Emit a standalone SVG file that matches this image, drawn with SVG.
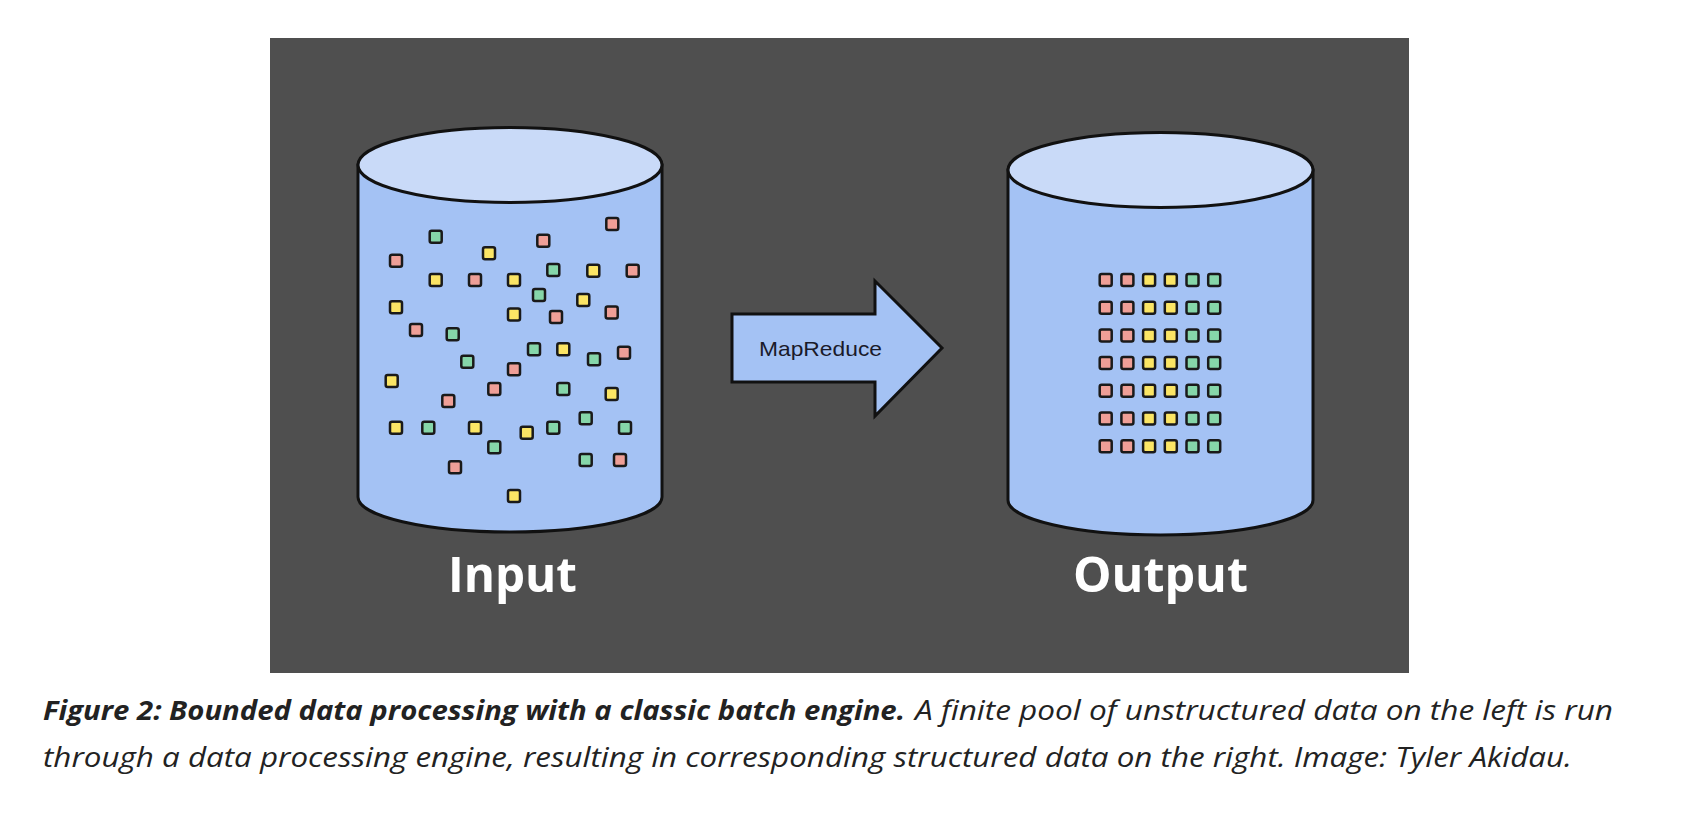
<svg xmlns="http://www.w3.org/2000/svg" width="1698" height="822" viewBox="0 0 1698 822">
<style>
.bg{fill:#4f4f4f}
.body{fill:#a4c2f4;stroke:#111;stroke-width:3}
.top{fill:#c9daf8;stroke:#111;stroke-width:3}
.sq{stroke:#1a1a1a;stroke-width:2.5}
.p{fill:#ef9f97}
.y{fill:#fbe565}
.g{fill:#86d6a9}
.lbl{font-family:"Open Sans","Liberation Sans",sans-serif;font-weight:bold;font-size:49px;fill:#fff}
.arrowtxt{font-family:"Liberation Sans",Arial,sans-serif;font-size:21px;fill:#1a1a2a}
.cap{font-family:"Open Sans","Noto Sans","Liberation Sans",sans-serif;font-style:italic;font-size:26.5px;fill:#222}
.capb{font-weight:bold}
</style>
<defs>
<rect id="s" x="-6" y="-6" width="12" height="12" rx="2"/>
</defs>
<rect width="1698" height="822" fill="#fff"/>
<rect class="bg" x="270" y="38" width="1139" height="635"/>

<g id="input">
<path class="body" d="M358,165 L358,497 A152,35 0 0 0 662,497 L662,165 Z"/>
<ellipse class="top" cx="510" cy="165" rx="152" ry="37.5"/>
<g class="sq">
<use href="#s" class="g" x="435.7" y="236.7"/>
<use href="#s" class="p" x="612.3" y="224"/>
<use href="#s" class="p" x="543.3" y="240.7"/>
<use href="#s" class="y" x="489" y="253.3"/>
<use href="#s" class="p" x="396" y="260.7"/>
<use href="#s" class="g" x="553.3" y="270"/>
<use href="#s" class="y" x="593.3" y="270.7"/>
<use href="#s" class="p" x="632.7" y="270.7"/>
<use href="#s" class="y" x="435.7" y="280"/>
<use href="#s" class="p" x="475" y="280"/>
<use href="#s" class="y" x="514" y="280"/>
<use href="#s" class="g" x="539" y="295"/>
<use href="#s" class="y" x="583.3" y="300"/>
<use href="#s" class="y" x="396" y="307.3"/>
<use href="#s" class="y" x="514" y="314.5"/>
<use href="#s" class="p" x="556" y="317"/>
<use href="#s" class="p" x="611.7" y="312.5"/>
<use href="#s" class="p" x="416" y="330"/>
<use href="#s" class="g" x="452.7" y="334.3"/>
<use href="#s" class="g" x="534" y="349.3"/>
<use href="#s" class="y" x="563.3" y="349.3"/>
<use href="#s" class="g" x="594" y="359.3"/>
<use href="#s" class="p" x="624" y="352.7"/>
<use href="#s" class="g" x="467.3" y="361.7"/>
<use href="#s" class="p" x="514" y="369.3"/>
<use href="#s" class="y" x="391.7" y="381"/>
<use href="#s" class="p" x="494.3" y="389"/>
<use href="#s" class="g" x="563.3" y="389"/>
<use href="#s" class="y" x="611.7" y="394"/>
<use href="#s" class="p" x="448.3" y="401"/>
<use href="#s" class="y" x="396" y="427.7"/>
<use href="#s" class="g" x="428.3" y="427.7"/>
<use href="#s" class="y" x="475" y="427.7"/>
<use href="#s" class="y" x="526.7" y="432.7"/>
<use href="#s" class="g" x="553.3" y="427.7"/>
<use href="#s" class="g" x="585.7" y="418.3"/>
<use href="#s" class="g" x="625" y="427.7"/>
<use href="#s" class="g" x="494.3" y="447.3"/>
<use href="#s" class="p" x="455" y="467.3"/>
<use href="#s" class="g" x="585.7" y="460"/>
<use href="#s" class="p" x="620" y="460"/>
<use href="#s" class="y" x="514" y="496"/>
</g>
<text class="lbl" x="512.5" y="592" text-anchor="middle" textLength="129" lengthAdjust="spacingAndGlyphs">Input</text>
</g>

<g id="connectors">
<g id="mapreduce">
<polygon points="732,314 875,314 875,281 942,348 875,416 875,382 732,382" fill="#a4c2f4" stroke="#111" stroke-width="3" stroke-linejoin="miter"/>
<text class="arrowtxt" x="759" y="356" textLength="123" lengthAdjust="spacingAndGlyphs">MapReduce</text>
</g>
</g>

<g id="output">
<path class="body" d="M1008,170 L1008,500 A152.5,35 0 0 0 1313,500 L1313,170 Z"/>
<ellipse class="top" cx="1160.5" cy="170" rx="152.5" ry="37.5"/>
<g class="sq">
<g id="row1">
<use href="#s" class="p" x="1105.7" y="280"/><use href="#s" class="p" x="1127.4" y="280"/><use href="#s" class="y" x="1149.1" y="280"/><use href="#s" class="y" x="1170.8" y="280"/><use href="#s" class="g" x="1192.5" y="280"/><use href="#s" class="g" x="1214.2" y="280"/>
</g>
<use href="#row1" y="27.7"/>
<use href="#row1" y="55.4"/>
<use href="#row1" y="83.1"/>
<use href="#row1" y="110.8"/>
<use href="#row1" y="138.5"/>
<use href="#row1" y="166.2"/>
</g>
<text class="lbl" x="1160.5" y="592" text-anchor="middle" textLength="175" lengthAdjust="spacingAndGlyphs">Output</text>
</g>

<g id="caption">
<text class="cap capb" x="43" y="720" textLength="862" lengthAdjust="spacingAndGlyphs">Figure 2: Bounded data processing with a classic batch engine.</text>
<text class="cap" x="915" y="720" textLength="698" lengthAdjust="spacingAndGlyphs">A finite pool of unstructured data on the left is run</text>
<text class="cap" x="43" y="767" textLength="1529" lengthAdjust="spacingAndGlyphs">through a data processing engine, resulting in corresponding structured data on the right. Image: Tyler Akidau.</text>
</g>
</svg>
